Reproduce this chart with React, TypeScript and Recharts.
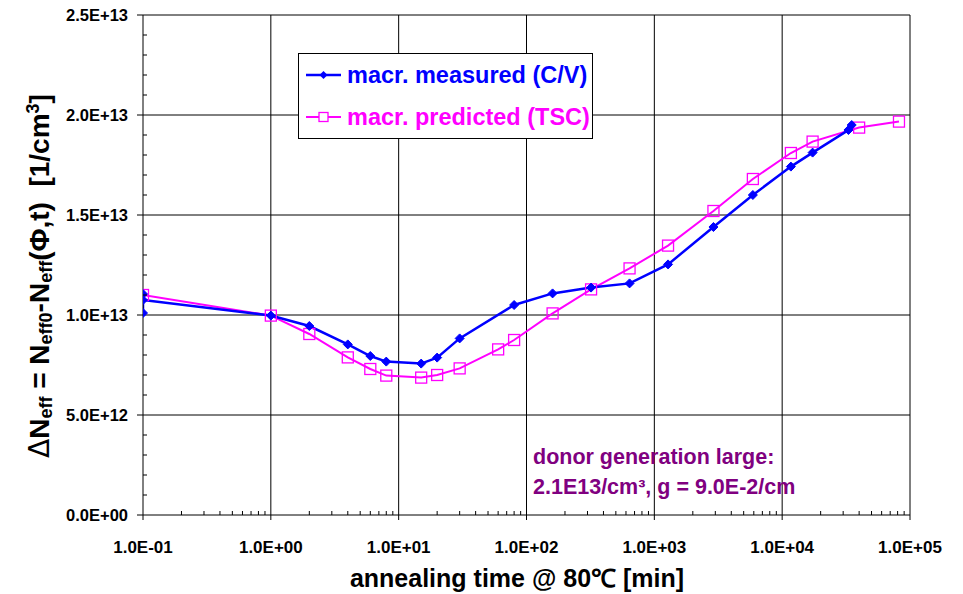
import { LineChart, Line, XAxis, YAxis, ReferenceLine } from 'recharts'

// annealing time [min] and delta Neff [1/cm3]
const MEASURED_T = [0.1, 0.1, 0.1, 1, 2, 4, 6, 8, 15, 20, 30, 80, 160, 320, 640, 1280, 2900, 5900, 11700, 17300, 33000, 35000]
const MEASURED_N = [1.01e13, 1.105e13, 1.075e13, 9.97e12, 9.45e12, 8.53e12, 7.95e12, 7.67e12, 7.57e12, 7.87e12, 8.83e12, 1.05e13, 1.108e13, 1.137e13, 1.158e13, 1.253e13, 1.44e13, 1.6e13, 1.742e13, 1.812e13, 1.925e13, 1.95e13]

const PREDICTED_T = [0.1, 1, 2, 4, 6, 8, 15, 20, 30, 60, 80, 160, 320, 640, 1280, 2900, 5900, 11700, 17300, 40000, 82000]
const PREDICTED_N = [1.1e13, 9.97e12, 9.05e12, 7.88e12, 7.3e12, 6.97e12, 6.87e12, 7.0e12, 7.33e12, 8.28e12, 8.75e12, 1.008e13, 1.128e13, 1.233e13, 1.347e13, 1.52e13, 1.68e13, 1.81e13, 1.867e13, 1.937e13, 1.967e13]

const X_DECADES = [0.1, 1, 10, 100, 1000, 10000, 100000]
const Y_MAJOR = [0, 5e12, 1e13, 1.5e13, 2e13, 2.5e13]
const Y_STEP_MINOR = 1e12

const BLUE = '#0000ff'
const MAGENTA = '#ff00ff'
const PURPLE = '#800080'
const FONT = 'Arial, "Liberation Sans", sans-serif'

const measured = MEASURED_T.map((t, i) => ({ t, n: MEASURED_N[i] }))
const predicted = PREDICTED_T.map((t, i) => ({ t, n: PREDICTED_N[i] }))

const xTicks: number[] = []
X_DECADES.forEach((d, i) => {
  xTicks.push(d)
  if (i < X_DECADES.length - 1) for (let k = 2; k <= 9; k++) xTicks.push(d * k)
})
const yTicks: number[] = []
for (let v = 0; v <= 2.5e13 + 1; v += Y_STEP_MINOR) yTicks.push(v)

function isDecade(v: number) {
  const l = Math.log10(v)
  return Math.abs(l - Math.round(l)) < 1e-6
}

function sci(v: number): string {
  if (v === 0) return '0.0E+00'
  const e = Math.floor(Math.log10(v) + 1e-9)
  const m = v / Math.pow(10, e)
  const sign = e < 0 ? '-' : '+'
  return `${m.toFixed(1)}E${sign}${Math.abs(e).toString().padStart(2, '0')}`
}

const XTick = (props: any) => {
  const { x, y, payload } = props
  const v = payload.value
  if (isDecade(v)) {
    return (
      <g>
        <line x1={x} x2={x} y1={y} y2={y + 5} stroke="#000" />
        <text x={x} y={y + 38} textAnchor="middle" fontSize={17} fontWeight="bold" fontFamily={FONT} fill="#000">
          {sci(v)}
        </text>
      </g>
    )
  }
  return <line x1={x} x2={x} y1={y} y2={y - 4} stroke="#000" />
}

const YTick = (props: any) => {
  const { x, y, payload } = props
  const v = payload.value
  const major = Math.round(v / 1e12) % 5 === 0
  if (major) {
    return (
      <g>
        <line x1={x - 6} x2={x} y1={y} y2={y} stroke="#000" />
        <text x={x - 15} y={y + 6} textAnchor="end" fontSize={16.5} fontWeight="bold" fontFamily={FONT} fill="#000">
          {sci(v)}
        </text>
      </g>
    )
  }
  return <line x1={x} x2={x + 4} y1={y} y2={y} stroke="#000" />
}

const Diamond = (props: any) => {
  const { cx, cy, index } = props
  if (cx == null || cy == null) return <g key={index} />
  const r = 4.5
  return (
    <polygon
      key={index}
      points={`${cx},${cy - r} ${cx + r},${cy} ${cx},${cy + r} ${cx - r},${cy}`}
      fill={BLUE}
      stroke={BLUE}
      strokeWidth={1}
    />
  )
}

const Square = (props: any) => {
  const { cx, cy, index } = props
  if (cx == null || cy == null) return <g key={index} />
  const r = 5.5
  return <rect key={index} x={cx - r} y={cy - r} width={2 * r} height={2 * r} fill="none" stroke={MAGENTA} strokeWidth={1.3} />
}

export default function App() {
  return (
    <div style={{ position: 'absolute', left: 0, top: 0, width: 963, height: 594, background: '#fff' }}>
      <LineChart width={963} height={594} margin={{ top: 15, right: 53, bottom: 0, left: 0 }}>
        <XAxis
          dataKey="t"
          type="number"
          scale="log"
          domain={[0.1, 100000]}
          ticks={xTicks}
          interval={0}
          tick={<XTick />}
          tickSize={0}
          tickMargin={0}
          tickLine={false}
          axisLine={{ stroke: '#000' }}
          height={79}
          allowDataOverflow
        />
        <YAxis
          dataKey="n"
          type="number"
          domain={[0, 2.5e13]}
          ticks={yTicks}
          interval={0}
          tick={<YTick />}
          tickSize={0}
          tickMargin={0}
          tickLine={false}
          axisLine={{ stroke: '#000' }}
          width={143}
        />
        {X_DECADES.slice(1).map((d) => (
          <ReferenceLine key={'x' + d} x={d} stroke="#000" strokeWidth={1} />
        ))}
        {Y_MAJOR.slice(1).map((v) => (
          <ReferenceLine key={'y' + v} y={v} stroke="#000" strokeWidth={1} />
        ))}
        <Line
          data={predicted}
          dataKey="n"
          type="linear"
          stroke={MAGENTA}
          strokeWidth={2}
          dot={Square}
          isAnimationActive={false}
        />
        <Line
          data={measured}
          dataKey="n"
          type="linear"
          stroke={BLUE}
          strokeWidth={2.5}
          dot={Diamond}
          isAnimationActive={false}
        />
      </LineChart>

      <svg width={963} height={594} style={{ position: 'absolute', left: 0, top: 0, pointerEvents: 'none' }}>
        <text
          transform="translate(49,276) rotate(-90)"
          textAnchor="middle"
          fontFamily={FONT}
          fontWeight="bold"
          fontSize={28}
          fill="#000"
          style={{ whiteSpace: 'pre' }}
        >
          <tspan fontWeight="normal" fontFamily="DejaVu Sans, sans-serif">Δ</tspan>
          <tspan>N</tspan>
          <tspan fontSize={18} dy={3}>eff</tspan>
          <tspan dy={-3}> = N</tspan>
          <tspan fontSize={18} dy={3}>eff0</tspan>
          <tspan dy={-3}>-N</tspan>
          <tspan fontSize={18} dy={3}>eff</tspan>
          <tspan dy={-3}>(Φ,t)  [1/cm</tspan>
          <tspan fontSize={18} dy={-10}>3</tspan>
          <tspan dy={10}>]</tspan>
        </text>
        <text x={517} y={587} textAnchor="middle" fontFamily={FONT} fontWeight="bold" fontSize={25} fill="#000">
          annealing time @ 80℃ [min]
        </text>
        <text x={533} y={464} fontFamily={FONT} fontWeight="bold" fontSize={21.5} fill={PURPLE}>
          donor generation large:
        </text>
        <text x={533} y={494} fontFamily={FONT} fontWeight="bold" fontSize={21.5} fill={PURPLE}>
          2.1E13/cm³, g = 9.0E-2/cm
        </text>
        <rect x={298.5} y={53.5} width={294} height={85} fill="#fff" stroke="#000" strokeWidth={1} />
        <line x1={306} x2={341} y1={75} y2={75} stroke={BLUE} strokeWidth={2.5} />
        <polygon points="323.5,71 327.5,75 323.5,79 319.5,75" fill={BLUE} />
        <text x={347} y={83} fontFamily={FONT} fontWeight="bold" fontSize={23.5} fill={BLUE}>
          macr. measured (C/V)
        </text>
        <line x1={306} x2={341} y1={117} y2={117} stroke={MAGENTA} strokeWidth={2} />
        <rect x={319} y={112.5} width={9} height={9} fill="#fff" stroke={MAGENTA} strokeWidth={1.3} />
        <text x={347} y={125} fontFamily={FONT} fontWeight="bold" fontSize={23.5} fill={MAGENTA}>
          macr. predicted (TSC)
        </text>
      </svg>
    </div>
  )
}
